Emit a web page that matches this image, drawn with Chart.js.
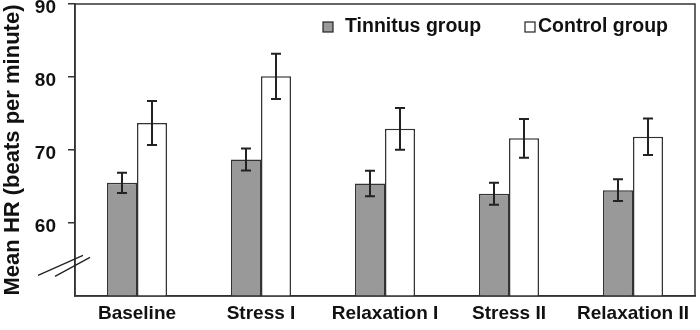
<!DOCTYPE html>
<html>
<head>
<meta charset="utf-8">
<script src="https://cdn.jsdelivr.net/npm/chart.js@4.4.1/dist/chart.umd.min.js"></script>
<style>
  html, body { margin: 0; padding: 0; background: #fff; }
  #wrap { width: 700px; height: 330px; }
</style>
</head>
<body>
<div id="wrap"><canvas id="myChart"></canvas></div>
<script>
var phases = ["Baseline", "Stress I", "Relaxation I", "Stress II", "Relaxation II"];
var groups = ["Tinnitus group", "Control group"];
var tinnitusHR = [65.5, 68.7, 65.4, 64.0, 64.5];
var tinnitusErr = [1.4, 1.5, 1.75, 1.5, 1.5];
var controlHR = [73.7, 80.1, 72.9, 71.6, 71.8];
var controlErr = [3.0, 3.1, 2.85, 2.65, 2.5];
var yTicks = [60, 70, 80, 90];

var font = "'Liberation Sans', Arial, sans-serif";
var fills = ['#999999', '#ffffff'];

// error bars, drawn through the y scale
var errorBars = {
    id: 'errorBars',
    afterDatasetsDraw: function (chart) {
        var c = chart.ctx;
        var y = chart.scales.y;
        var errs = [tinnitusErr, controlErr];
        c.save();
        c.strokeStyle = '#222';
        c.lineWidth = 2;
        chart.data.datasets.forEach(function (ds, di) {
            chart.getDatasetMeta(di).data.forEach(function (bar, i) {
                var v = ds.data[i];
                var top = y.getPixelForValue(v + errs[di][i]);
                var bot = y.getPixelForValue(v - errs[di][i]);
                c.beginPath();
                c.moveTo(bar.x, top); c.lineTo(bar.x, bot);
                c.moveTo(bar.x - 5, top); c.lineTo(bar.x + 5, top);
                c.moveTo(bar.x - 5, bot); c.lineTo(bar.x + 5, bot);
                c.stroke();
            });
        });
        c.restore();
    }
};

// plot box, legend and axis break marks
var frame = {
    id: 'frame',
    afterDraw: function (chart) {
        var c = chart.ctx;
        var a = chart.chartArea;
        c.save();
        c.strokeStyle = '#333';
        c.lineWidth = 1.5;
        c.strokeRect(a.left, a.top, a.right - a.left, a.bottom - a.top);

        // legend
        var lx = [a.right - 372, a.right - 170];
        var tx = [22, 13];
        var ly = a.top + 23;
        c.font = "bold 19.5px " + font;
        c.textBaseline = 'middle';
        c.textAlign = 'left';
        groups.forEach(function (g, i) {
            c.fillStyle = fills[i];
            c.fillRect(lx[i], ly - 5, 10, 10);
            c.lineWidth = 1.2;
            c.strokeStyle = '#222';
            c.strokeRect(lx[i], ly - 5, 10, 10);
            c.fillStyle = '#111';
            c.fillText(g, lx[i] + tx[i], ly);
        });

        var yb = chart.scales.y.getPixelForValue(54.2);
        c.strokeStyle = '#222';
        c.lineWidth = 1.3;
        c.beginPath();
        c.moveTo(a.left - 37, yb + 10); c.lineTo(a.left + 8, yb - 10);
        c.moveTo(a.left - 20, yb + 11); c.lineTo(a.left + 15, yb - 8);
        c.stroke();
        c.restore();
    }
};

var ctx = document.getElementById('myChart').getContext('2d');
var myChart = new Chart(ctx, {
    type: 'bar',
    data: {
        labels: phases,
        datasets: [{
            label: groups[0],
            data: tinnitusHR,
            backgroundColor: fills[0],
            borderColor: '#333',
            borderWidth: 1.5,
            borderSkipped: 'bottom'
        }, {
            label: groups[1],
            data: controlHR,
            backgroundColor: fills[1],
            borderColor: '#333',
            borderWidth: 1.5,
            borderSkipped: 'bottom'
        }]
    },
    options: {
        responsive: true,
        maintainAspectRatio: false,
        animation: false,
        layout: { padding: { top: 4, right: 5, bottom: 0, left: 0 } },
        datasets: { bar: { categoryPercentage: 0.484, barPercentage: 1.0 } },
        plugins: {
            tooltip: { enabled: false },
            legend: { display: false }
        },
        scales: {
            x: {
                grid: { display: false, drawTicks: false },
                border: { display: true, color: '#333', width: 1.5 },
                ticks: { color: '#111', padding: 6, font: { family: font, size: 19, weight: 'bold' } },
                afterFit: function (axis) { axis.height = 34; }
            },
            y: {
                min: 50,
                max: 90,
                afterBuildTicks: function (axis) {
                    axis.ticks = yTicks.map(function (v) { return { value: v }; });
                },
                afterFit: function (axis) {
                    axis.paddingTop = 0;
                    axis.paddingBottom = 0;
                    axis.width = 75;
                },
                grid: { drawOnChartArea: false, drawTicks: true, tickLength: 7, color: '#333', lineWidth: 1.5 },
                border: { display: true, color: '#333', width: 1.5 },
                ticks: { color: '#111', padding: 12, labelOffset: 4, font: { family: font, size: 19, weight: 'bold' } },
                title: {
                    display: true,
                    text: 'Mean HR (beats per minute)',
                    color: '#111',
                    padding: { top: 0, bottom: 2 },
                    font: { family: font, size: 22, weight: 'bold' }
                }
            }
        }
    },
    plugins: [errorBars, frame]
});
</script>
</body>
</html>
